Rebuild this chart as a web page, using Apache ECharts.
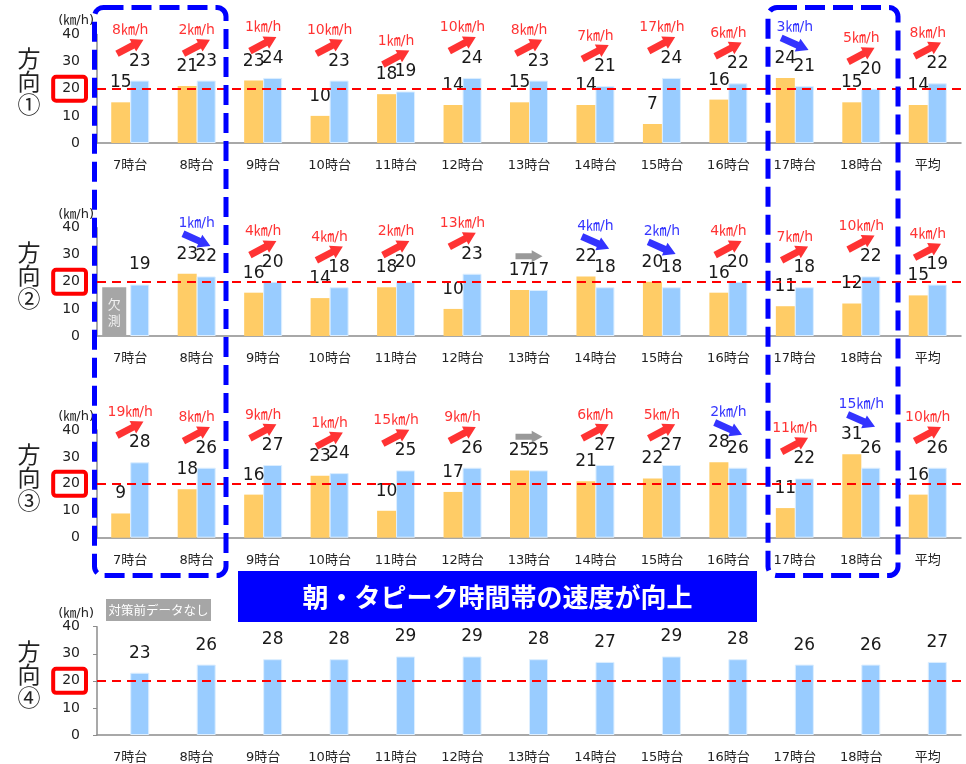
<!DOCTYPE html>
<html><head><meta charset="utf-8">
<script src="https://cdn.jsdelivr.net/npm/echarts@6/dist/echarts.min.js"></script>
<style>html,body{margin:0;padding:0;background:#fff}#c{width:966px;height:764px}</style>
</head><body><div id="c"></div>
<script>
const categories = ['7時台','8時台','9時台','10時台','11時台','12時台','13時台','14時台','15時台','16時台','17時台','18時台','平均'];
// 対策前 (orange) / 対策後 (blue)
const before1 = [15,21,23,10,18,14,15,14,7,16,24,15,14];
const after1  = [23,23,24,23,19,24,23,21,24,22,21,20,22];
const change1 = [8,2,1,10,1,10,8,7,17,6,-3,5,8];
const before2 = [null,23,16,14,18,10,17,22,20,16,11,12,15];
const after2  = [19,22,20,18,20,23,17,18,18,20,18,22,19];
const change2 = [null,-1,4,4,2,13,0,-4,-2,4,7,10,4];
const before3 = [9,18,16,23,10,17,25,21,22,28,11,31,16];
const after3  = [28,26,27,24,25,26,25,27,27,26,22,26,26];
const change3 = [19,8,9,1,15,9,0,6,5,-2,11,-15,10];
const before4 = [null,null,null,null,null,null,null,null,null,null,null,null,null];
const after4  = [23,26,28,28,29,29,28,27,29,28,26,26,27];
const missingHeight2 = 18; // 欠測 placeholder box height (方向② 7時台)
const refSpeed = 20;
const yMax = 40, yStep = 10;
const panelNames = ['方\n向\n①','方\n向\n②','方\n向\n③','方\n向\n④'];
const unitLabel = '(㎞/h)';
const bannerText = '朝・タピーク時間帯の速度が向上';
const noDataText = '対策前データなし';

const panels = [
  {b: before1, a: after1, c: change1},
  {b: before2, a: after2, c: change2},
  {b: before3, a: after3, c: change3},
  {b: before4, a: after4, c: null}
];
const gridPos = [
  {top: 34.5, height: 108.5},
  {top: 227.7, height: 108.3},
  {top: 430, height: 107.7},
  {top: 626.7, height: 109}
];
const ORANGE = '#FFCC66', BLUE = '#99CCFF';
const NUMFONT = "'DejaVu Sans','Noto Sans CJK JP',sans-serif";
const arrowPath = 'path://M0,3.5 L18,3.5 L18,0 L30,7 L18,14 L18,10.5 L0,10.5 Z';

const grid = [], xAxis = [], yAxis = [], series = [], graphic = [];
panels.forEach((p, k) => {
  grid.push({left: 97, width: 864, top: gridPos[k].top, height: gridPos[k].height});
  xAxis.push({
    type: 'category', gridIndex: k, data: categories,
    axisLine: {lineStyle: {color: '#8c8c8c', width: 1.5}},
    axisTick: {inside: true, length: 5, lineStyle: {color: '#8c8c8c'}},
    axisLabel: {color: '#222', fontSize: 13, margin: 16, fontFamily: NUMFONT}
  });
  yAxis.push({
    type: 'value', gridIndex: k, min: 0, max: yMax, interval: yStep,
    name: unitLabel, nameLocation: 'end', nameGap: 6,
    nameTextStyle: {color: '#222', fontSize: 13, align: 'right', padding: [0, 3, 0, 0], fontFamily: NUMFONT},
    axisLine: {show: true, lineStyle: {color: '#8c8c8c', width: 1.5}},
    axisTick: {show: true, length: 4, lineStyle: {color: '#8c8c8c'}},
    splitLine: {show: false},
    axisLabel: {
      margin: 11, fontFamily: NUMFONT,
      formatter: v => v === refSpeed ? '{box|' + v + '}' : '{n|' + v + '}',
      rich: {
        n: {color: '#222', fontSize: 14, padding: [0, 6, 0, 0], fontFamily: NUMFONT},
        box: {color: '#222', fontSize: 14, padding: [5, 6, 5, 9], borderColor: '#FF0000', borderWidth: 4, borderRadius: 3, fontFamily: NUMFONT}
      }
    }
  });
  const lbl = {show: true, position: 'top', distance: 11, color: '#1a1a1a', fontSize: 17, fontFamily: NUMFONT};
  series.push({
    type: 'bar', xAxisIndex: k, yAxisIndex: k, data: p.b, barWidth: 19, barGap: '0%',
    itemStyle: {color: ORANGE}, label: lbl
  });
  series.push({
    type: 'bar', xAxisIndex: k, yAxisIndex: k, data: p.a, barWidth: 19, barGap: '0%',
    itemStyle: {color: BLUE, borderColor: '#DCEEFF', borderWidth: 1}, label: lbl,
    markLine: {
      silent: true, symbol: 'none', label: {show: false},
      lineStyle: {color: '#FF0000', type: [9, 6], width: 2},
      data: [{yAxis: refSpeed}], z: 5
    }
  });
  if (p.c) {
    const pts = [];
    p.c.forEach((c, i) => {
      if (c === null) return;
      const top = Math.max(p.b[i] || 0, p.a[i] || 0) + 12.5;
      const col = c > 0 ? '#FF0000' : (c < 0 ? '#0000FF' : '#808080');
      pts.push({
        value: [i, top],
        symbolRotate: c > 0 ? 28 : (c < 0 ? -24 : 0),
        symbolSize: c === 0 ? [27, 12] : [30, 14],
        itemStyle: {color: col},
        label: {show: c !== 0, formatter: Math.abs(c) + '㎞/h', color: col, distance: c > 0 ? -4 : -3}
      });
    });
    series.push({
      type: 'scatter', xAxisIndex: k, yAxisIndex: k, data: pts, clip: false,
      symbol: arrowPath, z: 6,
      label: {position: 'top', fontSize: 14, fontFamily: NUMFONT}
    });
  }
  const cy = gridPos[k].top + gridPos[k].height / 2 - 7;
  graphic.push({
    type: 'text', x: 29, y: cy, z: 10,
    style: {text: panelNames[k], font: "23px 'Noto Sans CJK JP'", fill: '#222', align: 'center', verticalAlign: 'middle', lineHeight: 23}
  });
});

// peak-hour frames
graphic.push({type: 'rect', z: 20, shape: {x: 94.5, y: 7.5, width: 131.5, height: 568, r: 9},
  style: {fill: 'none', stroke: '#0000FF', lineWidth: 5, lineDash: [20, 8]}});
graphic.push({type: 'rect', z: 20, shape: {x: 768, y: 7.5, width: 130, height: 568, r: 9},
  style: {fill: 'none', stroke: '#0000FF', lineWidth: 5, lineDash: [20, 8]}});
// banner
graphic.push({type: 'rect', z: 21, shape: {x: 238, y: 571, width: 519, height: 51},
  style: {fill: '#0000FF'}});
graphic.push({type: 'text', z: 22, x: 497.5, y: 597,
  style: {text: bannerText, font: "bold 26px 'Noto Sans CJK JP'", fill: '#fff', align: 'center', verticalAlign: 'middle'}});
// no-data tag
graphic.push({type: 'rect', z: 21, shape: {x: 106, y: 599, width: 105, height: 22},
  style: {fill: '#A6A6A6'}});
graphic.push({type: 'text', z: 22, x: 158.5, y: 610,
  style: {text: noDataText, font: "12.5px 'Noto Sans CJK JP'", fill: '#fff', align: 'center', verticalAlign: 'middle'}});

const chart = echarts.init(document.getElementById('c'), null, {renderer: 'canvas'});
chart.setOption({animation: false, backgroundColor: '#fff', grid, xAxis, yAxis, series, graphic});

// 欠測 box at 方向② 7時台 (orange slot)
const p0 = chart.convertToPixel({gridIndex: 1}, [0, 0]);
const p1 = chart.convertToPixel({gridIndex: 1}, [0, missingHeight2]);
graphic.push({type: 'rect', z: 8, shape: {x: p0[0] - 28, y: p1[1], width: 24, height: p0[1] - p1[1]},
  style: {fill: '#A6A6A6'}});
graphic.push({type: 'text', z: 9, x: p0[0] - 16, y: (p0[1] + p1[1]) / 2,
  style: {text: '欠\n測', font: "13px 'Noto Sans CJK JP'", fill: '#f2f2f2', align: 'center', verticalAlign: 'middle', lineHeight: 16}});
chart.setOption({graphic});
</script></body></html>
